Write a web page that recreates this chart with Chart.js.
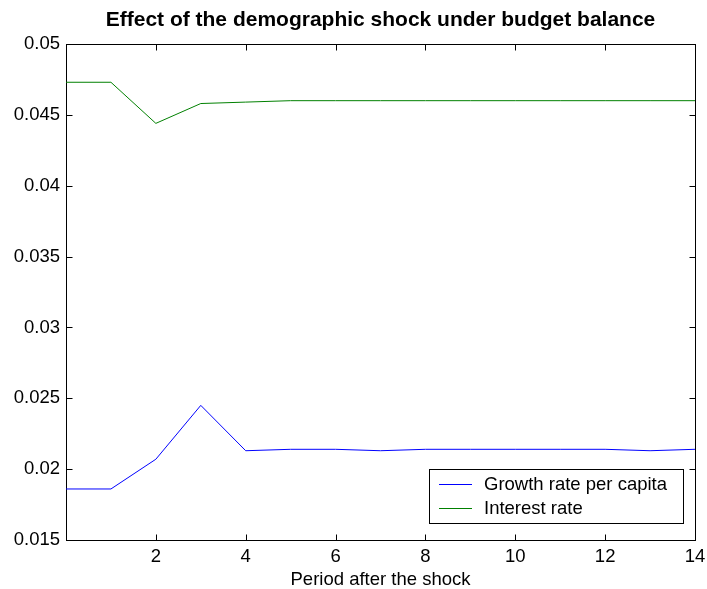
<!DOCTYPE html>
<html><head><meta charset="utf-8">
<script src="https://cdn.jsdelivr.net/npm/chart.js@4.4.1/dist/chart.umd.min.js"></script>
<style>html,body{margin:0;padding:0;background:#fff}#wrap{width:707px;height:589px;position:relative}</style>
</head><body><div id="wrap"><canvas id="c"></canvas></div>
<script>
const chartTitle = 'Effect of the demographic shock under budget balance';
const xAxisTitle = 'Period after the shock';
const seriesNames = ['Growth rate per capita', 'Interest rate'];
const periods = [0,1,2,3,4,5,6,7,8,9,10,11,12,13,14];
const growthRate = [0.0186,0.0186,0.0207,0.0245,0.0213,0.0214,0.0214,0.0213,0.0214,0.0214,0.0214,0.0214,0.0214,0.0213,0.0214];
const interestRate = [0.0473,0.0473,0.0444,0.0458,0.0459,0.0460,0.0460,0.0460,0.0460,0.0460,0.0460,0.0460,0.0460,0.0460,0.0460];
const xTicks = [2,4,6,8,10,12,14];
const yTicks = [0.015,0.02,0.025,0.03,0.035,0.04,0.045,0.05];
const yTickLabels = ['0.015','0.02','0.025','0.03','0.035','0.04','0.045','0.05'];

const FONT = 'Liberation Sans, Arial, Helvetica, sans-serif';
const FS = 18.5;

const boxPlugin = {
  id: 'matlabBox',
  afterDraw(chart) {
    const ctx = chart.ctx;
    const {left, right, top, bottom} = chart.chartArea;
    const xs = chart.scales.x, ys = chart.scales.y;
    const r = v => Math.round(v) + 0.5;
    ctx.save();
    ctx.strokeStyle = '#000';
    ctx.lineWidth = 1;
    ctx.beginPath();
    ctx.moveTo(r(right), r(top)); ctx.lineTo(r(right), r(bottom));
    xTicks.forEach(v => {
      const px = r(xs.getPixelForValue(v));
      ctx.moveTo(px, r(bottom)); ctx.lineTo(px, r(bottom) - 6);
      ctx.moveTo(px, r(top)); ctx.lineTo(px, r(top) + 6);
    });
    yTicks.forEach(v => {
      const py = r(ys.getPixelForValue(v));
      ctx.moveTo(r(left), py); ctx.lineTo(r(left) + 6, py);
      ctx.moveTo(r(right), py); ctx.lineTo(r(right) - 6, py);
    });
    ctx.stroke();

    // legend
    ctx.font = FS + 'px ' + FONT;
    const ds = chart.data.datasets;
    let tw = 0;
    ds.forEach(d => { tw = Math.max(tw, ctx.measureText(d.label).width); });
    const padL = 10, lineLen = 33, gap = 12, padR = 16;
    const w = Math.round(padL + lineLen + gap + tw + padR);
    const h = 54;
    const bx = Math.round(right - 12 - w), by = Math.round(bottom - 17 - h);
    ctx.fillStyle = '#fff';
    ctx.fillRect(bx, by, w, h);
    ctx.strokeRect(bx + 0.5, by + 0.5, w, h);
    ctx.textBaseline = 'middle';
    ds.forEach((d, i) => {
      const y = by + 14.5 + i * 24.5;
      ctx.strokeStyle = d.borderColor;
      ctx.beginPath();
      ctx.moveTo(bx + padL, Math.round(y) + 0.5);
      ctx.lineTo(bx + padL + lineLen, Math.round(y) + 0.5);
      ctx.stroke();
      ctx.fillStyle = '#000';
      ctx.fillText(d.label, bx + padL + lineLen + gap, y + 1);
    });
    ctx.restore();
  }
};

new Chart(document.getElementById('c'), {
  type: 'line',
  data: {
    datasets: [
      { label: seriesNames[0], data: periods.map((p, i) => ({x: p, y: growthRate[i]})), borderColor: '#0000ff', borderWidth: 1, pointRadius: 0, tension: 0, fill: false },
      { label: seriesNames[1], data: periods.map((p, i) => ({x: p, y: interestRate[i]})), borderColor: '#008000', borderWidth: 1, pointRadius: 0, tension: 0, fill: false }
    ]
  },
  options: {
    responsive: true,
    maintainAspectRatio: false,
    animation: false,
    layout: { padding: { left: 0, right: 12, top: 0, bottom: 0 } },
    plugins: { legend: { display: false }, tooltip: { enabled: false }, title: { display: false } },
    scales: {
      x: {
        type: 'linear', position: 'bottom', min: 0, max: 14,
        afterBuildTicks: s => { s.ticks = xTicks.map(v => ({value: v})); },
        afterFit: s => { s.height = 49; s.paddingRight = 0; s.paddingLeft = 0; },
        ticks: { font: { size: FS, family: FONT }, color: '#000', padding: 6, maxRotation: 0, autoSkip: false },
        grid: { drawOnChartArea: false, drawTicks: false },
        border: { color: '#000', width: 1 },
        title: { display: true, text: xAxisTitle, color: '#000', font: { size: FS, family: FONT }, padding: { top: 0, bottom: -2 } }
      },
      x2: {
        type: 'linear', position: 'top', min: 0, max: 14,
        afterFit: s => { s.height = 44; s.paddingRight = 0; s.paddingLeft = 0; },
        ticks: { display: false },
        grid: { drawOnChartArea: false, drawTicks: false },
        border: { color: '#000', width: 1 },
        title: { display: true, text: chartTitle, color: '#000', font: { size: 21, weight: 'bold', family: FONT }, padding: { top: 8, bottom: 0 } }
      },
      y: {
        type: 'linear', min: 0.015, max: 0.05,
        afterBuildTicks: s => { s.ticks = yTicks.map(v => ({value: v})); },
        afterFit: s => { s.width = 66; s.paddingTop = 0; s.paddingBottom = 0; },
        ticks: {
          font: { size: FS, family: FONT }, color: '#000', padding: 6,
          callback: v => { const i = yTicks.findIndex(t => Math.abs(t - v) < 1e-9); return i >= 0 ? yTickLabels[i] : ''; }
        },
        grid: { drawOnChartArea: false, drawTicks: false },
        border: { color: '#000', width: 1 }
      }
    }
  },
  plugins: [boxPlugin]
});
</script>
</body></html>
